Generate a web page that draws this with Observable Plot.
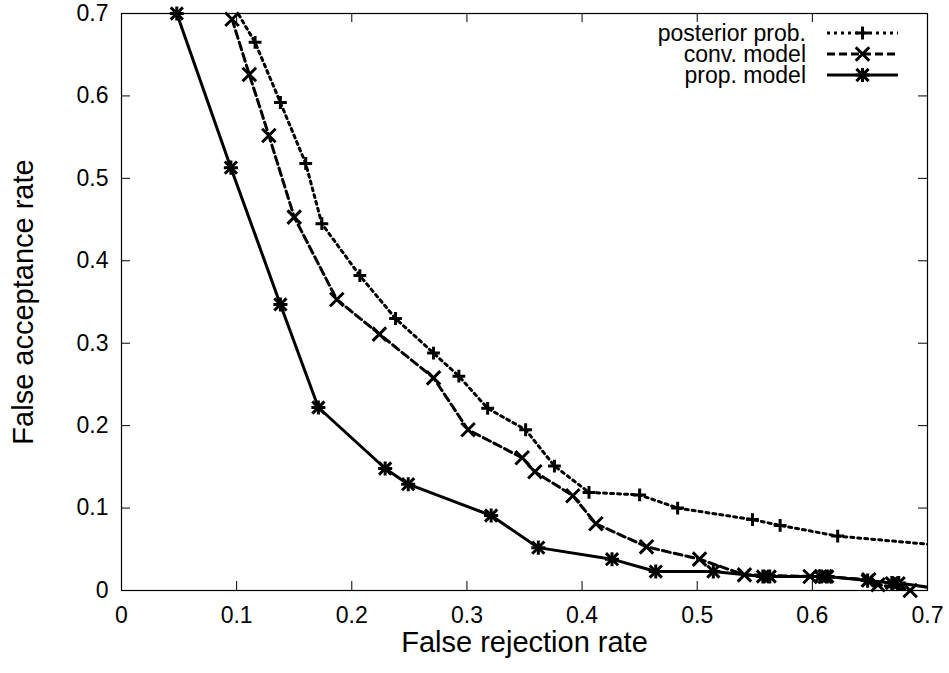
<!DOCTYPE html>
<html><head><meta charset="utf-8">
<script src="https://cdn.jsdelivr.net/npm/d3@7"></script>
<script src="https://cdn.jsdelivr.net/npm/@observablehq/plot@0.6"></script>
<style>
html,body{margin:0;padding:0;background:#fff;}
#chart{width:949px;height:673px;}
</style></head><body><div id="chart"></div>
<script>
// ---- data ----
const xTicks = [0, 0.1, 0.2, 0.3, 0.4, 0.5, 0.6, 0.7];
const yTicks = [0, 0.1, 0.2, 0.3, 0.4, 0.5, 0.6, 0.7];
const xLabel = "False rejection rate";
const yLabel = "False acceptance rate";
const seriesNames = ["posterior prob.", "conv. model", "prop. model"];

const postX = [0.080, 0.116, 0.138, 0.160, 0.174, 0.207, 0.238, 0.271, 0.293, 0.318, 0.351, 0.376, 0.406, 0.450, 0.483, 0.548, 0.572, 0.622, 0.750];
const postY = [0.750, 0.665, 0.592, 0.518, 0.445, 0.382, 0.330, 0.288, 0.260, 0.221, 0.195, 0.151, 0.119, 0.116, 0.100, 0.086, 0.079, 0.066, 0.050];

const convX = [0.096, 0.111, 0.128, 0.150, 0.187, 0.224, 0.271, 0.301, 0.348, 0.359, 0.392, 0.412, 0.456, 0.502, 0.541, 0.598, 0.611, 0.649, 0.657, 0.685];
const convY = [0.693, 0.626, 0.552, 0.453, 0.353, 0.311, 0.258, 0.195, 0.161, 0.144, 0.115, 0.081, 0.053, 0.038, 0.019, 0.017, 0.017, 0.013, 0.007, 0.000];

const propX = [0.048, 0.095, 0.138, 0.171, 0.229, 0.249, 0.321, 0.362, 0.426, 0.464, 0.514, 0.557, 0.563, 0.607, 0.613, 0.648, 0.669, 0.675, 0.720];
const propY = [0.700, 0.513, 0.347, 0.222, 0.148, 0.129, 0.091, 0.052, 0.038, 0.023, 0.023, 0.017, 0.017, 0.017, 0.017, 0.012, 0.009, 0.009, 0.000];

// ---- layout ----
const W = 949, H = 673, mL = 121, mR = 22, mT = 13, mB = 83;
const pw = W - mL - mR, ph = H - mT - mB;
const font = "'Liberation Sans', Arial, Helvetica, sans-serif";
const rows = (xs, ys) => xs.map((x, i) => ({x, y: ys[i]}));
const post = rows(postX, postY), conv = rows(convX, convY), prop = rows(propX, propY);
const inDomain = d => d.x >= 0 && d.x <= 0.7 && d.y >= 0 && d.y <= 0.7;

const styles = {
  post: {strokeWidth: 3, strokeDasharray: "3,4"},
  conv: {strokeWidth: 3, strokeDasharray: "8,4"},
  prop: {strokeWidth: 3, strokeDasharray: null}
};

const chart = Plot.plot({
  width: W, height: H,
  marginLeft: mL, marginRight: mR, marginTop: mT, marginBottom: mB,
  style: {fontFamily: font, background: "#fff", color: "#000", overflow: "visible"},
  x: {domain: [0, 0.7]},
  y: {domain: [0, 0.7]},
  marks: [
    Plot.frame({stroke: "#000", strokeWidth: 1.2}),
    Plot.tickX(xTicks, {x: d => d, insetTop: ph - 9, stroke: "#000"}),
    Plot.tickX(xTicks, {x: d => d, insetBottom: ph - 9, stroke: "#000"}),
    Plot.tickY(yTicks, {y: d => d, insetRight: pw - 9, stroke: "#000"}),
    Plot.tickY(yTicks, {y: d => d, insetLeft: pw - 9, stroke: "#000"}),
    Plot.axisX({ticks: xTicks, tickSize: 0, tickPadding: 16, fontSize: 23, label: null, tickFormat: d3.format("")}),
    Plot.axisY({ticks: yTicks, tickSize: 0, tickPadding: 13, fontSize: 23, label: null, tickFormat: d3.format("")}),
    Plot.text([xLabel], {frameAnchor: "bottom", textAnchor: "middle", dy: 61, fontSize: 29, fill: "#000"}),
    Plot.text([yLabel], {frameAnchor: "left", textAnchor: "middle", dx: -98, rotate: -90, fontSize: 29, fill: "#000"}),

    Plot.line(post, {x: "x", y: "y", stroke: "#000", ...styles.post, clip: true}),
    Plot.line(conv, {x: "x", y: "y", stroke: "#000", ...styles.conv, clip: true}),
    Plot.line(prop, {x: "x", y: "y", stroke: "#000", ...styles.prop, clip: true}),

    Plot.dot(post, {x: "x", y: "y", filter: inDomain, symbol: "plus", r: 4.2, stroke: "#000", strokeWidth: 3}),
    Plot.dot(conv, {x: "x", y: "y", filter: inDomain, symbol: "times", r: 6.2, stroke: "#000", strokeWidth: 3}),
    Plot.dot(prop, {x: "x", y: "y", filter: inDomain, symbol: "plus", r: 4.6, stroke: "#000", strokeWidth: 3}),
    Plot.dot(prop, {x: "x", y: "y", filter: inDomain, symbol: "times", r: 5.6, stroke: "#000", strokeWidth: 3})
  ]
});
document.getElementById("chart").appendChild(chart);

// ---- legend (inside the frame, top right) ----
const svg = d3.select(chart);
const leg = svg.append("g").attr("font-family", font).attr("font-size", 23);
const legTextX = 806, legLine0 = 827, legLine1 = 898, legRowY = [33, 54, 75];
const legStyles = [styles.post, styles.conv, styles.prop];
const legSym = [["plus"], ["times"], ["plus", "times"]];
const symR = [{plus: 4.2}, {times: 6.2}, {plus: 4.6, times: 5.6}];
const symType = {plus: d3.symbolPlus, times: d3.symbolTimes};
seriesNames.forEach((name, i) => {
  const y = legRowY[i];
  leg.append("text").attr("x", legTextX).attr("y", y).attr("text-anchor", "end")
    .attr("dy", "0.35em").attr("fill", "#000").text(name);
  leg.append("line").attr("x1", legLine0).attr("x2", legLine1).attr("y1", y).attr("y2", y)
    .attr("stroke", "#000").attr("stroke-width", legStyles[i].strokeWidth)
    .attr("stroke-dasharray", legStyles[i].strokeDasharray);
  legSym[i].forEach(s => {
    const rr = symR[i][s];
    leg.append("path").attr("transform", `translate(${(legLine0 + legLine1) / 2},${y})`)
      .attr("d", d3.symbol(symType[s], Math.PI * rr * rr)()).attr("fill", "none")
      .attr("stroke", "#000").attr("stroke-width", 3);
  });
});
</script>
</body></html>
